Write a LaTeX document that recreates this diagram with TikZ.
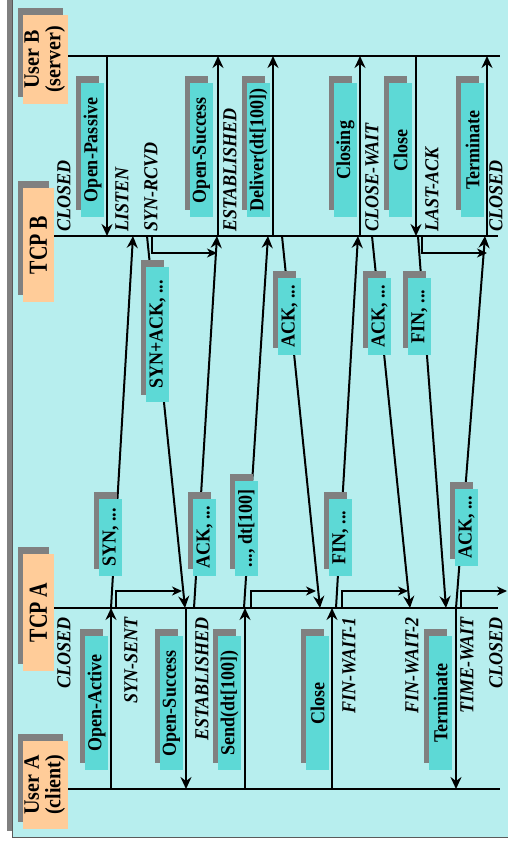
\documentclass[tikz,border=0pt]{standalone}
\usepackage{fontspec}
\usepackage{graphicx}
\setmainfont{Liberation Serif}
\usetikzlibrary{arrows.meta,calc}
\definecolor{bgcyan}{RGB}{183,238,238}
\definecolor{boxcyan}{RGB}{93,217,214}
\definecolor{orng}{RGB}{255,204,153}
\definecolor{shgray}{RGB}{128,128,128}
\definecolor{edgegray}{RGB}{90,90,90}
\newcommand{\sx}[1]{\scalebox{1}[1.1]{#1}}
\newcommand{\tallx}[1]{\scalebox{1}[1.3]{#1}}
\newcommand{\twolines}[2]{\sx{\begin{tabular}{@{}c@{}}#1\\#2\end{tabular}}}
\newcommand{\shadowedbox}[7]{%
  \node[fill=shgray, rotate=90, minimum width=#4pt, minimum height=#5pt, inner sep=0pt] (#1s) at (#2-5,#3-7) {};
  \node[rotate=90, minimum width=#4pt, minimum height=#5pt, inner sep=0pt, lbl, #6] (#1) at (#2,#3) {#7};
}
\begin{document}
\begin{tikzpicture}[x=1pt,y=-1pt,
  tl/.style={line width=2pt},
  msg/.style={line width=2pt,-{Stealth[length=12pt,width=11pt,inset=4pt]}},
  bentarrow/.style={line width=1.3pt,-{Stealth[length=10pt,width=9pt,inset=3pt]}},
  lbl/.style={font=\fontsize{18}{19}\selectfont\bfseries},
  userlbl/.style={font=\fontsize{20}{18.7}\selectfont\bfseries},
  tcplbl/.style={font=\fontsize{20}{20}\selectfont\bfseries},
  actbox/.style={fill=boxcyan},
  entbox/.style={fill=orng},
  st/.style={font=\fontsize{18}{19}\selectfont\bfseries\itshape, rotate=90, inner sep=0pt},
]
\useasboundingbox (0,0) rectangle (507,847);
\fill[white] (0,0) rectangle (507,847);
\fill[shgray] (7,-10) rectangle (502,831);
\fill[bgcyan] (12,-10) rectangle (517,837);
\draw[edgegray, line width=1pt] (12,-10) -- (12,837) -- (517,837);

% timelines
\coordinate (ub0) at (68,56);  \coordinate (ub1) at (500,56);
\coordinate (tb0) at (54,236); \coordinate (tb1) at (498,236);
\coordinate (ta0) at (54,608); \coordinate (ta1) at (498,608);
\coordinate (ua0) at (68,789); \coordinate (ua1) at (500,789);
\draw[tl] (ub0) -- (ub1);
\draw[tl] (tb0) -- (tb1);
\draw[tl] (ta0) -- (ta1);
\draw[tl] (ua0) -- (ua1);

% user <-> TCP arrows, B side
\coordinate (opU) at (107,56);  \coordinate (opT) at (107,236);
\coordinate (osbT) at (218,236); \coordinate (osbU) at (218,56);
\coordinate (dlT) at (273,236); \coordinate (dlU) at (273,56);
\coordinate (clgT) at (360,236); \coordinate (clgU) at (360,56);
\coordinate (clbU) at (416,56); \coordinate (clbT) at (416,236);
\coordinate (tmbT) at (487,236); \coordinate (tmbU) at (487,56);
\draw[msg] (opU) -- (opT);
\draw[msg] (osbT) -- (osbU);
\draw[msg] (dlT) -- (dlU);
\draw[msg] (clgT) -- (clgU);
\draw[msg] (clbU) -- (clbT);
\draw[msg] (tmbT) -- (tmbU);

% user <-> TCP arrows, A side
\coordinate (oaU) at (111,789); \coordinate (oaT) at (111,608);
\coordinate (osaT) at (186,608); \coordinate (osaU) at (186,789);
\coordinate (sdU) at (245,789); \coordinate (sdT) at (245,608);
\coordinate (claU) at (332,789); \coordinate (claT) at (332,608);
\coordinate (tmaT) at (456,608); \coordinate (tmaU) at (456,789);
\draw[msg] (oaU) -- (oaT);
\draw[msg] (osaT) -- (osaU);
\draw[msg] (sdU) -- (sdT);
\draw[msg] (claU) -- (claT);
\draw[msg] (tmaT) -- (tmaU);

% messages between TCP A and TCP B
\coordinate (m1a) at (111,608); \coordinate (m1b) at (133,236);
\coordinate (m2b) at (147,236); \coordinate (m2a) at (185,608);
\coordinate (m3a) at (194,608); \coordinate (m3b) at (217,236);
\coordinate (m4a) at (244,608); \coordinate (m4b) at (268,236);
\coordinate (m5b) at (282,236); \coordinate (m5a) at (320,608);
\coordinate (m6a) at (336,608); \coordinate (m6b) at (358,236);
\coordinate (m7b) at (372,236); \coordinate (m7a) at (410,608);
\coordinate (m8b) at (418,236); \coordinate (m8a) at (446,608);
\coordinate (m9a) at (456,608); \coordinate (m9b) at (485,236);
\draw[msg] (m1a) -- (m1b);
\draw[msg] (m2b) -- (m2a);
\draw[msg] (m3a) -- (m3b);
\draw[msg] (m4a) -- (m4b);
\draw[msg] (m5b) -- (m5a);
\draw[msg] (m6a) -- (m6b);
\draw[msg] (m7b) -- (m7a);
\draw[msg] (m8b) -- (m8a);
\draw[msg] (m9a) -- (m9b);

% small bent arrows
\coordinate (b1s) at (152,236); \coordinate (b1e) at (217,253);
\coordinate (b2s) at (422,236); \coordinate (b2e) at (487,253);
\coordinate (a1s) at (116,608); \coordinate (a1e) at (182,591);
\coordinate (a2s) at (251,608); \coordinate (a2e) at (316,591);
\coordinate (a3s) at (342,608); \coordinate (a3e) at (408,591);
\coordinate (a4s) at (461,608); \coordinate (a4e) at (507,591);
\draw[bentarrow] (b1s) |- (b1e);
\draw[bentarrow] (b2s) |- (b2e);
\draw[bentarrow] (a1s) |- (a1e);
\draw[bentarrow] (a2s) |- (a2e);
\draw[bentarrow] (a3s) |- (a3e);
\draw[bentarrow] (a4s) |- (a4e);

% entity boxes
\shadowedbox{userB}{45.5}{59.5}{89}{45}{entbox,userlbl}{\twolines{User B}{(server)}}
\shadowedbox{tcpB}{38.5}{245}{114}{31}{entbox,tcplbl}{\tallx{TCP B}}
\shadowedbox{tcpA}{38.5}{612.5}{117}{31}{entbox,tcplbl}{\tallx{TCP A}}
\shadowedbox{userA}{45.5}{785}{88}{45}{entbox,userlbl}{\twolines{User A}{(client)}}

% action boxes B side
\shadowedbox{opb}{92.5}{150}{134}{23}{actbox}{\sx{Open-Passive}}
\shadowedbox{osb}{201.5}{150}{134}{23}{actbox}{\sx{Open-Success}}
\shadowedbox{dlb}{258.5}{150}{134}{23}{actbox}{\sx{Deliver(dt[100])}}
\shadowedbox{clgb}{345.5}{150}{134}{23}{actbox}{\sx{Closing}}
\shadowedbox{clb}{400.5}{150}{134}{23}{actbox}{\sx{Close}}
\shadowedbox{tmb}{472.5}{150}{134}{23}{actbox}{\sx{Terminate}}

% action boxes A side
\shadowedbox{oaa}{96.5}{703}{134}{23}{actbox}{\sx{Open-Active}}
\shadowedbox{osa}{171.5}{703}{134}{23}{actbox}{\sx{Open-Success}}
\shadowedbox{sda}{229.5}{703}{134}{23}{actbox}{\sx{Send(dt[100])}}
\shadowedbox{cla}{317.5}{703}{134}{23}{actbox}{\sx{Close}}
\shadowedbox{tma}{440.5}{703}{134}{23}{actbox}{\sx{Terminate}}

% message label boxes
\shadowedbox{l1}{110.5}{537.5}{77}{23}{actbox}{\sx{SYN, ...}}
\shadowedbox{l2}{157.5}{334.5}{135}{23}{actbox}{\sx{SYN+ACK, ...}}
\shadowedbox{l3}{204.5}{537.5}{77}{23}{actbox}{\sx{ACK, ...}}
\shadowedbox{l4}{246.5}{528.5}{95}{23}{actbox}{\sx{..., dt[100]}}
\shadowedbox{l5}{289.5}{316.5}{77}{23}{actbox}{\sx{ACK, ...}}
\shadowedbox{l6}{340.5}{537.5}{77}{23}{actbox}{\sx{FIN, ...}}
\shadowedbox{l7}{379.5}{316.5}{77}{23}{actbox}{\sx{ACK, ...}}
\shadowedbox{l8}{419.5}{316.5}{77}{23}{actbox}{\sx{FIN, ...}}
\shadowedbox{l9}{466.5}{527.5}{77}{23}{actbox}{\sx{ACK, ...}}

% states of TCP B
\node[st, anchor=west] (sb1) at (64,232) {\sx{CLOSED}};
\node[st, anchor=west] (sb2) at (122,232) {\sx{LISTEN}};
\node[st, anchor=west] (sb3) at (151,232) {\sx{SYN-RCVD}};
\node[st, anchor=west] (sb4) at (230,232) {\sx{ESTABLISHED}};
\node[st, anchor=west] (sb5) at (372,232) {\sx{CLOSE-WAIT}};
\node[st, anchor=west] (sb6) at (432,232) {\sx{LAST-ACK}};
\node[st, anchor=west] (sb7) at (496,232) {\sx{CLOSED}};

% states of TCP A
\node[st, anchor=east] (sa1) at (64,617) {\sx{CLOSED}};
\node[st, anchor=east] (sa2) at (131,617) {\sx{SYN-SENT}};
\node[st, anchor=east] (sa3) at (202,617) {\sx{ESTABLISHED}};
\node[st, anchor=east] (sa4) at (349,617) {\sx{FIN-WAIT-1}};
\node[st, anchor=east] (sa5) at (412,617) {\sx{FIN-WAIT-2}};
\node[st, anchor=east] (sa6) at (467,617) {\sx{TIME-WAIT}};
\node[st, anchor=east] (sa7) at (496,617) {\sx{CLOSED}};
\end{tikzpicture}
\end{document}
